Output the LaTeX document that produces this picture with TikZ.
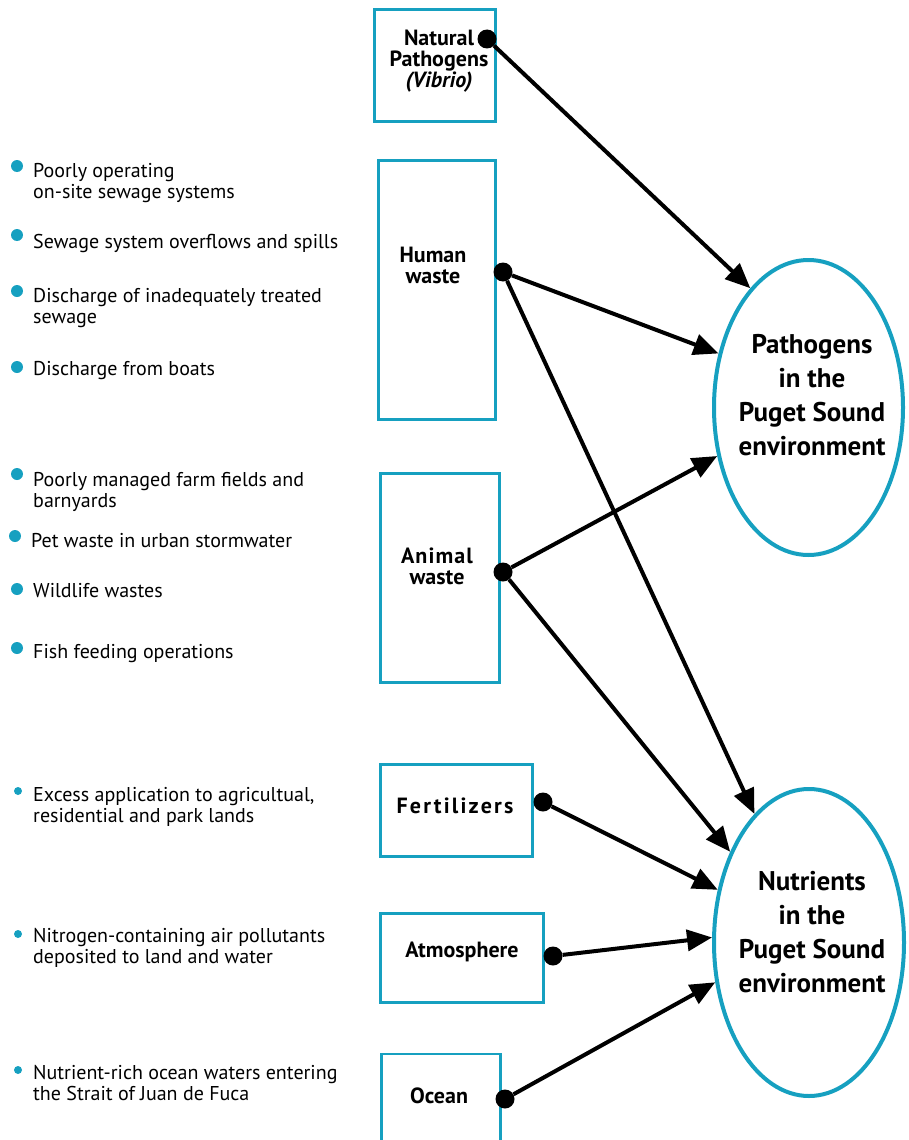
\documentclass[tikz,border=0pt]{standalone}
\usepackage{fontspec}
\setmainfont{PT Sans}
\usetikzlibrary{shapes, shapes.geometric, arrows.meta, calc}
\definecolor{sound}{RGB}{22,160,192}
\tikzstyle{source} = [
    rectangle,
    draw = sound,
    line width = 2.5pt,
    inner sep = 0pt,
]
\tikzstyle{sourcetext} = [
    font = \bfseries\fontsize{22}{21}\selectfont,
    align = center,
    inner sep = 0pt,
]
\tikzstyle{target} = [
    ellipse,
    draw = sound,
    line width = 4pt,
    inner sep = 0pt,
]
\tikzstyle{targettext} = [
    font = \bfseries\fontsize{27}{34}\selectfont,
    align = center,
    inner sep = 0pt,
]
\tikzstyle{item} = [
    font = \fontsize{20}{21}\selectfont,
    align = left,
    inner sep = 0pt,
    anchor = base west,
]
\tikzstyle{dot} = [circle, fill = black, minimum size = 19pt, inner sep = 0pt]
\tikzstyle{feed} = [line width = 4pt, -{Triangle[length = 25pt, width = 21pt]}]

\begin{document}
\begin{tikzpicture} [x = 1pt, y = -1pt]
    \useasboundingbox (0, 0) rectangle (908, 1140);

    \node (Natural) [source, minimum width = 121pt, minimum height = 112pt] at (435, 65.5) {};
    \node (NaturalText) [sourcetext] at (439, 61) {Natural\\Pathogens\\\textit{(Vibrio)}};
    \node (Human) [source, minimum width = 117pt, minimum height = 259pt] at (437, 290) {};
    \node (HumanText) [sourcetext] at (433, 265) {Human\\waste};
    \node (Animal) [source, minimum width = 119pt, minimum height = 209pt] at (440, 578) {};
    \node (AnimalText) [sourcetext] at (437, 566) {\addfontfeatures{LetterSpace = 5}Animal\\waste};
    \node (Fertilizers) [source, minimum width = 152pt, minimum height = 92pt] at (456.5, 810.5) {};
    \node (FertilizersText) [sourcetext] at (455, 806) {\addfontfeatures{LetterSpace = 10}Fertilizers};
    \node (Atmosphere) [source, minimum width = 163pt, minimum height = 89pt] at (462, 958) {};
    \node (AtmosphereText) [sourcetext] at (462, 952) {Atmosphere};
    \node (Ocean) [source, minimum width = 119pt, minimum height = 120pt] at (441, 1114) {};
    \node (OceanText) [sourcetext] at (439, 1096) {Ocean};

    \node (Pathogens) [target, minimum width = 189pt, minimum height = 295pt] at (808.5, 407.5) {};
    \node (PathogensText) [targettext] at (812, 395) {Pathogens\\in the\\Puget Sound\\environment};
    \node (Nutrients) [target, minimum width = 190pt, minimum height = 307pt] at (809, 942.5) {};
    \node (NutrientsText) [targettext] at (812, 932) {Nutrients\\in the\\Puget Sound\\environment};

    \node (Item1) [item] at (33, 198) {Poorly operating\\on-site sewage systems};
    \node (Item2) [item] at (33, 248) {Sewage system overflows and spills};
    \node (Item3) [item] at (33, 323) {Discharge of inadequately treated\\sewage};
    \node (Item4) [item] at (33, 375) {Discharge from boats};
    \node (Item5) [item] at (33, 507) {Poorly managed farm fields and\\barnyards};
    \node (Item6) [item] at (31, 547) {Pet waste in urban stormwater};
    \node (Item7) [item] at (33, 597) {Wildlife wastes};
    \node (Item8) [item] at (33, 658) {Fish feeding operations};
    \node (Item9) [item] at (33, 822) {Excess application to agricultual,\\residential and park lands};
    \node (Item10) [item] at (33, 963) {Nitrogen-containing air pollutants\\deposited to land and water};
    \node (Item11) [item] at (33, 1100) {Nutrient-rich ocean waters entering\\the Strait of Juan de Fuca};

    \fill [sound] (17, 166) circle (6pt);
    \fill [sound] (17, 235) circle (6pt);
    \fill [sound] (17, 291) circle (6pt);
    \fill [sound] (17, 367) circle (6pt);
    \fill [sound] (17, 474) circle (6pt);
    \fill [sound] (15, 536) circle (6pt);
    \fill [sound] (17, 589) circle (6pt);
    \fill [sound] (17, 648) circle (6pt);
    \fill [sound] (18, 791) circle (4pt);
    \fill [sound] (18, 934) circle (4pt);
    \fill [sound] (18, 1070) circle (4pt);

    \node (NaturalDot) [dot] at (487, 39) {};
    \node (HumanDot) [dot] at (503, 272) {};
    \node (AnimalDot) [dot] at (503, 572) {};
    \node (FertilizersDot) [dot] at (543, 802) {};
    \node (AtmosphereDot) [dot] at (553, 956) {};
    \node (OceanDot) [dot] at (505, 1099) {};

    \draw [feed] (NaturalDot) -- (Pathogens.116);
    \draw [feed] (HumanDot) -- (Pathogens.149);
    \draw [feed] (HumanDot) -- (Nutrients.113);
    \draw [feed] (AnimalDot) -- (Pathogens.208);
    \draw [feed] (AnimalDot) -- (Nutrients.131);
    \draw [feed] (FertilizersDot) -- (Nutrients.150);
    \draw [feed] (AtmosphereDot) -- (Nutrients.177);
    \draw [feed] (OceanDot) -- (Nutrients.203);
\end{tikzpicture}
\end{document}
